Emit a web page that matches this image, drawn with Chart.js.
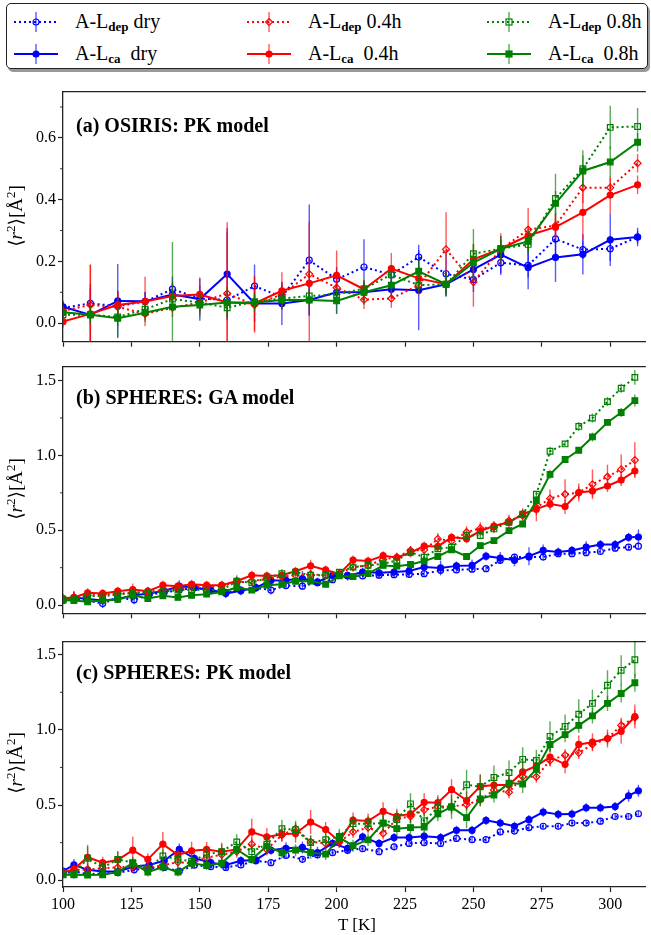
<!DOCTYPE html>
<html>
<head>
<meta charset="utf-8">
<script src="https://cdn.jsdelivr.net/npm/chart.js@4.4.1/dist/chart.umd.min.js"></script>
<style>
  body { margin: 0; background: #fff; width: 651px; height: 935px; overflow: hidden; position: relative;
         font-family: "Liberation Serif", "DejaVu Serif", serif; color: #000; }
  canvas { position: absolute; left: 0; }
  #legendBox { position: absolute; left: 6px; top: 3px; width: 640px; height: 64px; border: 1.5px solid #222;
               border-radius: 5px; box-shadow: 2px 3px 0 #999; background: #fff; }
  .lg { position: absolute; }
  .lgText { position: absolute; font-size: 20px; line-height: 24px; white-space: nowrap; }
  .lgText sub { font-size: 13px; font-weight: bold; vertical-align: -3px; line-height: 0; }
  .ptitle { position: absolute; left: 76px; font-size: 20px; line-height: 24px; font-weight: bold; white-space: nowrap; }
  .ylab { position: absolute; left: 15px; font-size: 19px; white-space: nowrap; transform: translate(-50%, -50%) rotate(-90deg); }
  .ylab sup { font-size: 13px; }
  #xlab { position: absolute; left: 357px; top: 925px; font-size: 17px; transform: translate(-50%, -50%); white-space: nowrap; }
</style>
</head>
<body>
<div id="legendBox"></div>
<canvas id="pa" width="651" height="274" style="top:80px"></canvas>
<canvas id="pb" width="651" height="272" style="top:355px"></canvas>
<canvas id="pc" width="651" height="300" style="top:630px"></canvas>
<div class="ptitle" style="top:113px">(a) OSIRIS: PK model</div>
<div class="ptitle" style="top:385px">(b) SPHERES: GA model</div>
<div class="ptitle" style="top:660px">(c) SPHERES: PK model</div>
<div class="ylab" style="top:216px">⟨<i>r</i><sup>2</sup>⟩[Å<sup>2</sup>]</div>
<div class="ylab" style="top:489px">⟨<i>r</i><sup>2</sup>⟩[Å<sup>2</sup>]</div>
<div class="ylab" style="top:763px">⟨<i>r</i><sup>2</sup>⟩[Å<sup>2</sup>]</div>
<div id="xlab">T [K]</div>
<script>
// ---- axis ticks ----
const xTicks = [100, 125, 150, 175, 200, 225, 250, 275, 300];
const yTicksA = [0.0, 0.2, 0.4, 0.6];
const yMinorA = [0.1, 0.3, 0.5, 0.7];
const yTicksBC = [0.0, 0.5, 1.0, 1.5];
const yMinorBC = [0.25, 0.75, 1.25];

// ---- temperatures ----
const tempsA = [100, 110, 120, 130, 140, 150, 160, 170, 180, 190, 200, 210, 220, 230, 240, 250, 260, 270, 280, 290, 300, 310];
const tempsWet = [100, 104, 109, 114.5, 120, 125.5, 131, 136.5, 142, 147, 152.5, 158, 163.5, 169, 174.5, 180, 185, 190.5, 196, 201,
  206, 211.5, 217, 222, 227, 232, 237, 242, 247.5, 252.5, 257.5, 263, 268, 273, 278, 283.5, 288.5, 293.5, 299, 304, 309];
const tempsDry = [100, 104, 109, 114.5, 120, 126, 131.5, 137, 142.5, 148, 154, 159.5, 165, 170.5, 176, 181.5, 187.5, 193, 198.5, 204,
  209.5, 215.5, 221, 226.5, 232, 238, 243.8, 249.5, 254.6, 259.8, 265, 270.3, 275.5, 281, 286, 291.2, 296.4, 301.8, 306.7, 310.3];

// ---- (a) OSIRIS: PK model ----
const aDepDry = [0.05, 0.064, 0.055, 0.07, 0.11, 0.08, 0.075, 0.12, 0.085, 0.204, 0.142, 0.182, 0.157, 0.214, 0.16, 0.141, 0.196, 0.187, 0.273, 0.238, 0.241, 0.279];
const aCaDry = [0.053, 0.027, 0.072, 0.071, 0.093, 0.078, 0.159, 0.064, 0.064, 0.075, 0.10, 0.10, 0.11, 0.107, 0.126, 0.174, 0.222, 0.18, 0.213, 0.223, 0.27, 0.279];
const aDep04 = [0.04, 0.059, 0.053, 0.03, 0.05, 0.067, 0.096, 0.059, 0.093, 0.159, 0.115, 0.076, 0.08, 0.123, 0.239, 0.133, 0.239, 0.303, 0.316, 0.439, 0.439, 0.518];
const aCa04 = [0.005, 0.03, 0.059, 0.07, 0.088, 0.093, 0.067, 0.064, 0.105, 0.129, 0.155, 0.11, 0.177, 0.145, 0.126, 0.207, 0.241, 0.284, 0.311, 0.359, 0.415, 0.448];
const aDep08 = [0.027, 0.027, 0.02, 0.045, 0.078, 0.067, 0.05, 0.07, 0.08, 0.088, 0.093, 0.112, 0.157, 0.123, 0.126, 0.225, 0.241, 0.255, 0.404, 0.5, 0.634, 0.637];
const aCa08 = [0.035, 0.027, 0.016, 0.034, 0.053, 0.059, 0.067, 0.067, 0.075, 0.075, 0.072, 0.10, 0.123, 0.168, 0.126, 0.196, 0.241, 0.265, 0.388, 0.493, 0.522, 0.586];
const aDepDryErr = [0.02, 0.05, 0.05, 0.03, 0.04, 0.04, 0.03, 0.07, 0.04, 0.18, 0.04, 0.09, 0.03, 0.04, 0.07, 0.04, 0.04, 0.04, 0.06, 0.03, 0.04, 0.02];
const aCaDryErr = [0.02, 0.1, 0.12, 0.03, 0.04, 0.07, 0.15, 0.06, 0.07, 0.05, 0.07, 0.03, 0.03, 0.13, 0.04, 0.03, 0.06, 0.07, 0.08, 0.065, 0.085, 0.03];
const aDep04Err = [0.02, 0.13, 0.05, 0.02, 0.03, 0.04, 0.2, 0.09, 0.04, 0.05, 0.05, 0.03, 0.03, 0.03, 0.12, 0.08, 0.03, 0.07, 0.04, 0.05, 0.03, 0.03];
const aCa04Err = [0.02, 0.16, 0.04, 0.08, 0.04, 0.05, 0.26, 0.09, 0.06, 0.2, 0.08, 0.03, 0.05, 0.04, 0.03, 0.05, 0.05, 0.03, 0.04, 0.09, 0.06, 0.03];
const aDep08Err = [0.01, 0.02, 0.03, 0.02, 0.03, 0.03, 0.03, 0.02, 0.02, 0.02, 0.02, 0.02, 0.03, 0.02, 0.03, 0.08, 0.03, 0.03, 0.08, 0.06, 0.07, 0.06];
const aCa08Err = [0.02, 0.03, 0.06, 0.03, 0.21, 0.04, 0.05, 0.03, 0.03, 0.03, 0.04, 0.04, 0.03, 0.04, 0.04, 0.06, 0.04, 0.04, 0.04, 0.05, 0.05, 0.03];

// ---- (b) SPHERES: GA model ----
const bDepDry = [0.03, 0.04, 0.03, 0.01, 0.05, 0.035, 0.07, 0.085, 0.1, 0.115, 0.1, 0.085, 0.1, 0.115, 0.1, 0.13, 0.126, 0.15, 0.17, 0.199,
  0.195, 0.2, 0.203, 0.205, 0.21, 0.232, 0.235, 0.24, 0.243, 0.299, 0.321, 0.321, 0.321, 0.343, 0.343, 0.35, 0.358, 0.38, 0.387, 0.394];
const bCaDry = [0.04, 0.05, 0.04, 0.03, 0.04, 0.066, 0.077, 0.095, 0.126, 0.117, 0.1, 0.077, 0.095, 0.117, 0.165, 0.166, 0.177, 0.155, 0.199, 0.195,
  0.221, 0.216, 0.221, 0.228, 0.254, 0.248, 0.262, 0.265, 0.327, 0.314, 0.299, 0.327, 0.365, 0.354, 0.365, 0.387, 0.405, 0.405, 0.453, 0.455];
const bDep04 = [0.04, 0.05, 0.065, 0.07, 0.075, 0.085, 0.09, 0.1, 0.11, 0.12, 0.12, 0.13, 0.15, 0.16, 0.175, 0.19, 0.2, 0.205, 0.2, 0.21,
  0.254, 0.265, 0.305, 0.32, 0.365, 0.369, 0.442, 0.427, 0.487, 0.513, 0.52, 0.564, 0.597, 0.652, 0.712, 0.741, 0.752, 0.807, 0.858, 0.907, 0.969];
const bCa04 = [0.045, 0.051, 0.082, 0.078, 0.093, 0.104, 0.093, 0.133, 0.126, 0.139, 0.133, 0.133, 0.161, 0.199, 0.195, 0.199, 0.226, 0.263, 0.235, 0.208,
  0.301, 0.294, 0.33, 0.318, 0.35, 0.395, 0.392, 0.453, 0.444, 0.495, 0.528, 0.553, 0.608, 0.641, 0.675, 0.659, 0.752, 0.763, 0.796, 0.836, 0.896];
const bDep08 = [0.035, 0.04, 0.06, 0.06, 0.07, 0.08, 0.08, 0.09, 0.1, 0.1, 0.1, 0.1, 0.16, 0.15, 0.18, 0.21, 0.22, 0.2, 0.2, 0.22,
  0.254, 0.265, 0.276, 0.299, 0.354, 0.32, 0.376, 0.387, 0.465, 0.465, 0.509, 0.553, 0.608, 0.741, 1.028, 1.077, 1.194, 1.25, 1.36, 1.449, 1.522];
const bCa08 = [0.033, 0.03, 0.022, 0.03, 0.038, 0.066, 0.044, 0.062, 0.051, 0.066, 0.073, 0.088, 0.117, 0.1, 0.133, 0.139, 0.159, 0.161, 0.139, 0.195,
  0.19, 0.21, 0.265, 0.26, 0.271, 0.294, 0.325, 0.37, 0.325, 0.397, 0.431, 0.498, 0.542, 0.697, 0.874, 0.973, 1.035, 1.124, 1.221, 1.287, 1.367];
const bDepDryErr = [0.02, 0.02, 0.02, 0.03, 0.02, 0.03, 0.02, 0.02, 0.02, 0.02, 0.02, 0.02, 0.02, 0.02, 0.03, 0.02, 0.02, 0.02, 0.02, 0.02,
  0.02, 0.02, 0.02, 0.02, 0.02, 0.02, 0.02, 0.02, 0.02, 0.02, 0.02, 0.02, 0.02, 0.02, 0.02, 0.02, 0.02, 0.02, 0.02, 0.02];
const bCaDryErr = [0.02, 0.04, 0.02, 0.03, 0.02, 0.03, 0.03, 0.03, 0.04, 0.04, 0.03, 0.03, 0.03, 0.03, 0.04, 0.04, 0.05, 0.03, 0.03, 0.03,
  0.03, 0.03, 0.03, 0.04, 0.03, 0.05, 0.03, 0.04, 0.03, 0.04, 0.04, 0.06, 0.04, 0.03, 0.03, 0.04, 0.03, 0.03, 0.03, 0.05];
const bDep04Err = [0.03, 0.04, 0.03, 0.03, 0.03, 0.03, 0.03, 0.03, 0.03, 0.03, 0.03, 0.03, 0.03, 0.03, 0.03, 0.03, 0.03, 0.03, 0.03, 0.03,
  0.03, 0.03, 0.03, 0.03, 0.03, 0.04, 0.04, 0.04, 0.04, 0.04, 0.04, 0.04, 0.05, 0.05, 0.06, 0.1, 0.06, 0.1, 0.08, 0.1, 0.12];
const bCa04Err = [0.03, 0.04, 0.03, 0.03, 0.03, 0.04, 0.03, 0.03, 0.03, 0.03, 0.03, 0.03, 0.03, 0.03, 0.03, 0.03, 0.03, 0.04, 0.03, 0.03,
  0.03, 0.03, 0.03, 0.03, 0.03, 0.03, 0.03, 0.03, 0.03, 0.03, 0.03, 0.03, 0.03, 0.08, 0.04, 0.05, 0.04, 0.04, 0.04, 0.04, 0.04];
const bDep08Err = [0.02, 0.02, 0.02, 0.02, 0.02, 0.02, 0.02, 0.02, 0.02, 0.02, 0.02, 0.02, 0.04, 0.02, 0.02, 0.03, 0.02, 0.02, 0.02, 0.02,
  0.02, 0.02, 0.02, 0.02, 0.02, 0.02, 0.02, 0.02, 0.02, 0.02, 0.02, 0.02, 0.02, 0.02, 0.03, 0.02, 0.03, 0.03, 0.03, 0.03, 0.05];
const bCa08Err = [0.02, 0.02, 0.02, 0.02, 0.02, 0.02, 0.02, 0.02, 0.02, 0.02, 0.02, 0.02, 0.02, 0.02, 0.02, 0.02, 0.02, 0.02, 0.02, 0.02,
  0.02, 0.02, 0.02, 0.02, 0.02, 0.02, 0.02, 0.02, 0.02, 0.02, 0.02, 0.02, 0.02, 0.02, 0.03, 0.02, 0.02, 0.03, 0.02, 0.03, 0.04];

// ---- (c) SPHERES: PK model ----
const cDepDry = [0.05, 0.06, 0.04, 0.045, 0.05, 0.069, 0.08, 0.085, 0.06, 0.1, 0.09, 0.085, 0.102, 0.13, 0.117, 0.165, 0.139, 0.17, 0.183, 0.2,
  0.21, 0.19, 0.222, 0.245, 0.25, 0.245, 0.278, 0.27, 0.27, 0.321, 0.327, 0.35, 0.359, 0.359, 0.38, 0.38, 0.393, 0.424, 0.424, 0.442];
const cCaDry = [0.06, 0.102, 0.069, 0.058, 0.058, 0.091, 0.102, 0.13, 0.205, 0.146, 0.117, 0.102, 0.13, 0.135, 0.2, 0.212, 0.218, 0.183, 0.245, 0.212,
  0.288, 0.245, 0.284, 0.284, 0.293, 0.284, 0.332, 0.332, 0.398, 0.38, 0.359, 0.403, 0.453, 0.438, 0.44, 0.482, 0.482, 0.49, 0.562, 0.595];
const cDep04 = [0.05, 0.07, 0.07, 0.08, 0.085, 0.09, 0.08, 0.1, 0.12, 0.113, 0.15, 0.17, 0.19, 0.24, 0.205, 0.3, 0.343, 0.255, 0.245, 0.255,
  0.321, 0.35, 0.311, 0.409, 0.424, 0.468, 0.49, 0.49, 0.503, 0.534, 0.6, 0.585, 0.688, 0.688, 0.797, 0.832, 0.847, 0.903, 0.942, 1.03, 1.082];
const cCa04 = [0.05, 0.074, 0.153, 0.117, 0.135, 0.2, 0.139, 0.24, 0.168, 0.196, 0.205, 0.19, 0.205, 0.321, 0.288, 0.306, 0.31, 0.387, 0.337, 0.258,
  0.4, 0.394, 0.458, 0.425, 0.441, 0.518, 0.516, 0.602, 0.53, 0.624, 0.633, 0.633, 0.72, 0.76, 0.819, 0.771, 0.903, 0.918, 0.942, 0.99, 1.089];
const cDep08 = [0.04, 0.04, 0.146, 0.084, 0.139, 0.117, 0.077, 0.161, 0.139, 0.127, 0.172, 0.19, 0.255, 0.19, 0.24, 0.343, 0.336, 0.25, 0.27, 0.292,
  0.376, 0.376, 0.38, 0.403, 0.508, 0.395, 0.482, 0.487, 0.635, 0.622, 0.683, 0.716, 0.804, 0.797, 0.957, 1.023, 1.104, 1.176, 1.297, 1.396, 1.466];
const cCa08 = [0.036, 0.036, 0.034, 0.036, 0.054, 0.113, 0.054, 0.087, 0.054, 0.113, 0.098, 0.113, 0.205, 0.139, 0.227, 0.183, 0.2, 0.183, 0.174, 0.284,
  0.23, 0.268, 0.38, 0.343, 0.35, 0.354, 0.442, 0.488, 0.416, 0.541, 0.567, 0.646, 0.64, 0.738, 0.903, 0.968, 1.03, 1.093, 1.176, 1.242, 1.313];
const cDepDryErr = [0.02, 0.02, 0.02, 0.02, 0.02, 0.02, 0.02, 0.02, 0.02, 0.02, 0.02, 0.02, 0.02, 0.02, 0.02, 0.02, 0.02, 0.02, 0.02, 0.02,
  0.02, 0.02, 0.02, 0.02, 0.02, 0.02, 0.02, 0.02, 0.02, 0.02, 0.02, 0.02, 0.02, 0.02, 0.02, 0.02, 0.02, 0.02, 0.02, 0.02];
const cCaDryErr = [0.02, 0.04, 0.03, 0.03, 0.03, 0.03, 0.03, 0.03, 0.04, 0.03, 0.03, 0.03, 0.03, 0.03, 0.03, 0.04, 0.04, 0.04, 0.03, 0.04,
  0.03, 0.03, 0.03, 0.03, 0.03, 0.03, 0.03, 0.03, 0.03, 0.03, 0.03, 0.03, 0.03, 0.03, 0.03, 0.03, 0.03, 0.03, 0.04, 0.04];
const cDep04Err = [0.02, 0.03, 0.04, 0.04, 0.04, 0.04, 0.04, 0.04, 0.04, 0.04, 0.04, 0.04, 0.04, 0.04, 0.04, 0.04, 0.04, 0.04, 0.04, 0.04,
  0.04, 0.04, 0.04, 0.04, 0.04, 0.04, 0.04, 0.04, 0.04, 0.04, 0.04, 0.04, 0.04, 0.04, 0.04, 0.04, 0.04, 0.04, 0.04, 0.05, 0.05];
const cCa04Err = [0.02, 0.04, 0.07, 0.04, 0.06, 0.09, 0.04, 0.08, 0.04, 0.06, 0.05, 0.06, 0.04, 0.09, 0.06, 0.05, 0.06, 0.08, 0.05, 0.04,
  0.05, 0.05, 0.06, 0.05, 0.06, 0.06, 0.05, 0.07, 0.06, 0.08, 0.06, 0.06, 0.07, 0.05, 0.06, 0.06, 0.06, 0.06, 0.06, 0.08, 0.08];
const cDep08Err = [0.02, 0.03, 0.09, 0.04, 0.05, 0.04, 0.04, 0.05, 0.05, 0.05, 0.05, 0.05, 0.05, 0.05, 0.06, 0.06, 0.06, 0.05, 0.05, 0.05,
  0.05, 0.05, 0.06, 0.06, 0.07, 0.05, 0.07, 0.08, 0.1, 0.08, 0.08, 0.08, 0.08, 0.07, 0.1, 0.08, 0.1, 0.09, 0.1, 0.1, 0.12];
const cCa08Err = [0.02, 0.02, 0.02, 0.02, 0.03, 0.03, 0.03, 0.03, 0.03, 0.03, 0.03, 0.03, 0.04, 0.03, 0.04, 0.04, 0.04, 0.04, 0.04, 0.04,
  0.04, 0.04, 0.05, 0.05, 0.05, 0.05, 0.05, 0.05, 0.07, 0.05, 0.05, 0.05, 0.06, 0.05, 0.05, 0.05, 0.05, 0.05, 0.05, 0.06, 0.06];

// series look, in legend order
const series = [
  { label: 'A-L<sub>dep</sub> dry', color: '#0000ff', err: 'rgba(0,0,255,0.65)', dash: [2, 3], style: 'circle', r: 3, filled: false },
  { label: 'A-L<sub>ca</sub>&nbsp;&nbsp;dry', color: '#0000ff', err: 'rgba(0,0,255,0.65)', dash: [], style: 'circle', r: 3, filled: true },
  { label: 'A-L<sub>dep</sub> 0.4h', color: '#ff0000', err: 'rgba(255,0,0,0.65)', dash: [2, 3], style: 'rectRot', r: 3.5, filled: false },
  { label: 'A-L<sub>ca</sub>&nbsp;&nbsp;0.4h', color: '#ff0000', err: 'rgba(255,0,0,0.65)', dash: [], style: 'circle', r: 3, filled: true },
  { label: 'A-L<sub>dep</sub> 0.8h', color: '#008000', err: 'rgba(0,128,0,0.65)', dash: [2, 3], style: 'rect', r: 4, filled: false },
  { label: 'A-L<sub>ca</sub>&nbsp;&nbsp;0.8h', color: '#008000', err: 'rgba(0,128,0,0.65)', dash: [], style: 'rect', r: 4, filled: true }
];

// legend (html)
const legendCols = [14, 247, 487];
const legendRows = [22, 54];
series.forEach(function (s, i) {
  const left = legendCols[Math.floor(i / 2)];
  const cy = legendRows[i % 2];
  let mk;
  if (s.style === 'circle') mk = '<circle cx="22" cy="11" r="' + s.r + '"';
  else if (s.style === 'rect') mk = '<rect x="19" y="8" width="6" height="6"';
  else mk = '<polygon points="22,7.5 25.5,11 22,14.5 18.5,11"';
  mk += ' fill="' + (s.filled ? s.color : 'none') + '" stroke="' + s.color + '" stroke-width="1.2"/>';
  const svg = '<svg width="44" height="22">' +
    '<line x1="0" y1="11" x2="44" y2="11" stroke="' + s.color + '" stroke-width="2"' + (s.dash.length ? ' stroke-dasharray="2,3"' : '') + '/>' +
    '<line x1="22" y1="1" x2="22" y2="21" stroke="' + s.err + '" stroke-width="1.4"/>' + mk + '</svg>';
  const d = document.createElement('div');
  d.className = 'lg';
  d.style.left = left + 'px';
  d.style.top = (cy - 11) + 'px';
  d.innerHTML = svg;
  document.body.appendChild(d);
  const t = document.createElement('div');
  t.className = 'lgText';
  t.style.left = (left + 61) + 'px';
  t.style.top = (cy - 13) + 'px';
  t.innerHTML = s.label;
  document.body.appendChild(t);
});

// error bars drawn with the chart scales
const errorBars = {
  id: 'errorBars',
  beforeDatasetDraw(chart, args) {
    const ds = chart.data.datasets[args.index];
    if (!ds.errs) return;
    const ctx = chart.ctx, a = chart.chartArea, x = chart.scales.x, y = chart.scales.y;
    ctx.save();
    ctx.beginPath();
    ctx.rect(a.left, a.top, a.right - a.left, a.bottom - a.top);
    ctx.clip();
    ctx.strokeStyle = ds.errColor;
    ctx.lineWidth = 1.4;
    ds.data.forEach(function (p, i) {
      const px = x.getPixelForValue(p.x);
      ctx.beginPath();
      ctx.moveTo(px, y.getPixelForValue(p.y - ds.errs[i]));
      ctx.lineTo(px, y.getPixelForValue(p.y + ds.errs[i]));
      ctx.stroke();
    });
    ctx.restore();
  }
};

// top spine + short minor ticks
const frame = {
  id: 'frame',
  afterDraw(chart, args, opts) {
    const ctx = chart.ctx, a = chart.chartArea, y = chart.scales.y;
    ctx.save();
    ctx.strokeStyle = '#222';
    ctx.lineWidth = 1.3;
    ctx.beginPath();
    ctx.moveTo(a.left, a.top);
    ctx.lineTo(a.right, a.top);
    ctx.stroke();
    ctx.lineWidth = 0.9;
    (opts.minor || []).forEach(function (v) {
      const py = y.getPixelForValue(v);
      ctx.beginPath();
      ctx.moveTo(a.left - 3, py);
      ctx.lineTo(a.left, py);
      ctx.stroke();
    });
    ctx.restore();
  }
};

Chart.defaults.font.family = '"Liberation Serif", "DejaVu Serif", serif';
Chart.defaults.color = '#000';

function makePanel(id, cfg) {
  const datasets = cfg.sets.map(function (set, i) {
    const s = series[i];
    return {
      data: set.t.map(function (t, k) { return { x: t, y: set.v[k] }; }),
      errs: set.e,
      errColor: s.err,
      borderColor: s.color,
      borderWidth: 2,
      borderDash: s.dash,
      pointStyle: s.style,
      pointRadius: s.r,
      pointBorderWidth: 1.2,
      pointBorderColor: s.color,
      pointBackgroundColor: s.filled ? s.color : 'rgba(0,0,0,0)',
      fill: false,
      tension: 0,
      order: 6 - i
    };
  });
  new Chart(document.getElementById(id), {
    type: 'line',
    data: { datasets: datasets },
    options: {
      responsive: false,
      animation: false,
      layout: { padding: { top: cfg.padTop, left: 0, right: 0, bottom: 0 } },
      plugins: { legend: { display: false }, tooltip: { enabled: false }, frame: { minor: cfg.minor } },
      scales: {
        x: {
          type: 'linear', min: 100, max: 313,
          afterBuildTicks: function (s) { s.ticks = xTicks.map(function (v) { return { value: v }; }); },
          afterFit: function (s) { s.height = cfg.xHeight; },
          grid: { drawOnChartArea: false, tickLength: 5, tickColor: '#222', tickWidth: 1.2 },
          border: { color: '#222', width: 1.3 },
          ticks: { display: cfg.xLabels, padding: 3, maxRotation: 0, autoSkip: false, font: { size: 16 } }
        },
        y: {
          type: 'linear', min: cfg.yMin, max: cfg.yMax,
          afterBuildTicks: function (s) { s.ticks = cfg.yTicks.map(function (v) { return { value: v }; }); },
          afterFit: function (s) { s.width = 63; },
          grid: { drawOnChartArea: false, tickLength: 5, tickColor: '#222', tickWidth: 1.2 },
          border: { color: '#222', width: 1.3 },
          ticks: { padding: 2, font: { size: 16 }, callback: function (v) { return v.toFixed(1); } }
        }
      }
    },
    plugins: [errorBars, frame]
  });
}

makePanel('pa', {
  padTop: 10, xHeight: 12.3, xLabels: false, yMin: -0.06, yMax: 0.75, yTicks: yTicksA, minor: yMinorA,
  sets: [
    { t: tempsA, v: aDepDry, e: aDepDryErr }, { t: tempsA, v: aCaDry, e: aCaDryErr },
    { t: tempsA, v: aDep04, e: aDep04Err }, { t: tempsA, v: aCa04, e: aCa04Err },
    { t: tempsA, v: aDep08, e: aDep08Err }, { t: tempsA, v: aCa08, e: aCa08Err }
  ]
});
makePanel('pb', {
  padTop: 9.3, xHeight: 13.7, xLabels: false, yMin: -0.055, yMax: 1.594, yTicks: yTicksBC, minor: yMinorBC,
  sets: [
    { t: tempsDry, v: bDepDry, e: bDepDryErr }, { t: tempsDry, v: bCaDry, e: bCaDryErr },
    { t: tempsWet, v: bDep04, e: bDep04Err }, { t: tempsWet, v: bCa04, e: bCa04Err },
    { t: tempsWet, v: bDep08, e: bDep08Err }, { t: tempsWet, v: bCa08, e: bCa08Err }
  ]
});
makePanel('pc', {
  padTop: 9.3, xHeight: 43, xLabels: true, yMin: -0.045, yMax: 1.587, yTicks: yTicksBC, minor: yMinorBC,
  sets: [
    { t: tempsDry, v: cDepDry, e: cDepDryErr }, { t: tempsDry, v: cCaDry, e: cCaDryErr },
    { t: tempsWet, v: cDep04, e: cDep04Err }, { t: tempsWet, v: cCa04, e: cCa04Err },
    { t: tempsWet, v: cDep08, e: cDep08Err }, { t: tempsWet, v: cCa08, e: cCa08Err }
  ]
});
</script>
</body>
</html>
